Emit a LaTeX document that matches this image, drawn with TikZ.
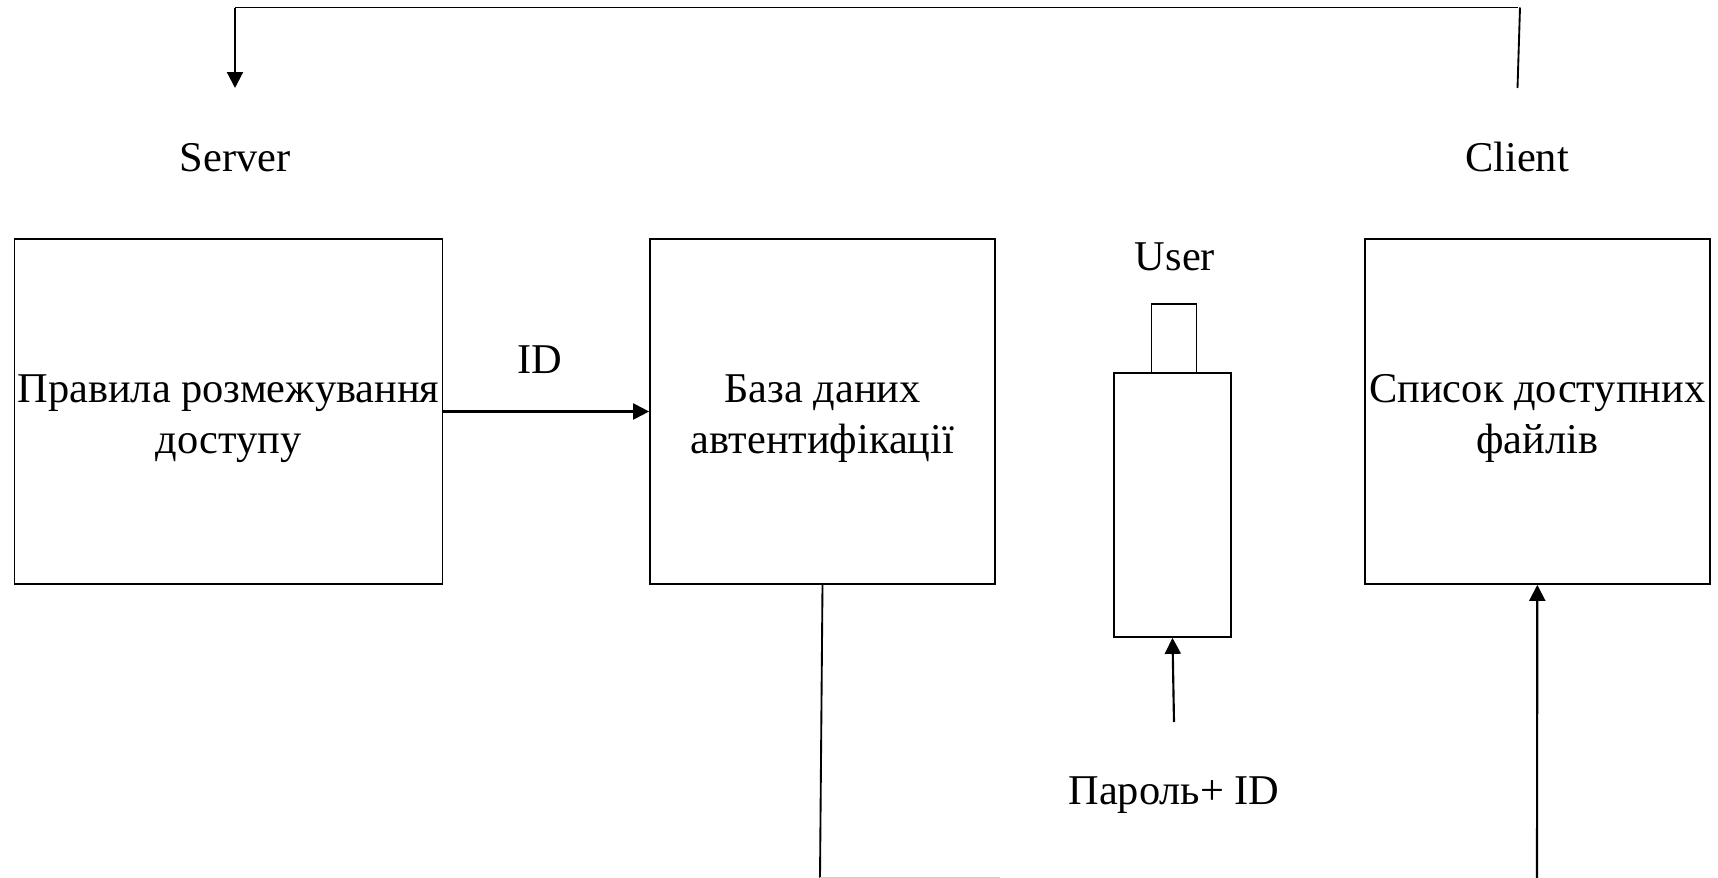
\documentclass[tikz,border=0pt]{standalone}
\usepackage{fontspec}
\setmainfont{Liberation Serif}
\usepackage{tikz}
\usetikzlibrary{arrows.meta,positioning}

\begin{document}
\begin{tikzpicture}[
  x=0.75pt, y=-0.75pt,
  box/.style={draw, line width=1.3pt, inner sep=0pt, align=center, text height=70pt, font=\fontsize{31.8}{38.5}\selectfont},
  part/.style={draw, line width=1.3pt, inner sep=0pt},
  label/.style={inner sep=0pt, anchor=base, font=\fontsize{31.8}{38.5}\selectfont},
  line/.style={line width=1.4pt},
  arrow/.style={-{Triangle[length=12pt, width=12pt]}, line width=1.6pt}
]
\useasboundingbox (0,0) rectangle (1718,878);
\node[box, minimum width=321pt, minimum height=258.75pt] (rules) at (228.5,411.5) {Правила розмежування\\доступу};
\node[box, minimum width=258.75pt, minimum height=258.75pt] (authdb) at (822.5,411.5) {База даних\\автентифікації};
\node[box, minimum width=259pt, minimum height=258.75pt] (files) at (1537.3,411.5) {Список доступних\\файлів};
\node[part, minimum width=87.75pt, minimum height=198pt] (userbody) at (1172.5,505) {};
\node[part, minimum width=33.75pt, minimum height=51.75pt] (userhead) at (1174,338.5) {};

\node[label] (server) at (235,171.5) {Server};
\node[label] (client) at (1517,171.5) {Client};
\node[label] (user) at (1175,270) {User};
\node[label] (id) at (540,373) {ID};
\node[label] (password) at (1174,804) {Пароль+ ID};

\coordinate (topleft) at (235,7.5);
\coordinate (topright) at (1518,7.5);
\coordinate (serverin) at (235,88);
\coordinate (clientout) at (1517.5,88);
\coordinate (clientup) at (1520,7.5);
\coordinate (passout) at (1174,722);
\coordinate (bottomleft) at (820,877.5);
\coordinate (bottomright) at (1000,877.5);
\coordinate (filesin) at (1537,878);

\draw[arrow] (topleft) -- (serverin);
\draw[line] (topleft) -- (topright);
\draw[line] (clientout) -- (clientup);
\draw[arrow] (rules) -- (authdb);
\draw[arrow] (passout) -- (userbody.south);
\draw[line] (authdb.south) -- (bottomleft);
\draw[line, gray!40] (bottomleft) -- (bottomright);
\draw[arrow] (filesin) -- (files.south);
\end{tikzpicture}
\end{document}
